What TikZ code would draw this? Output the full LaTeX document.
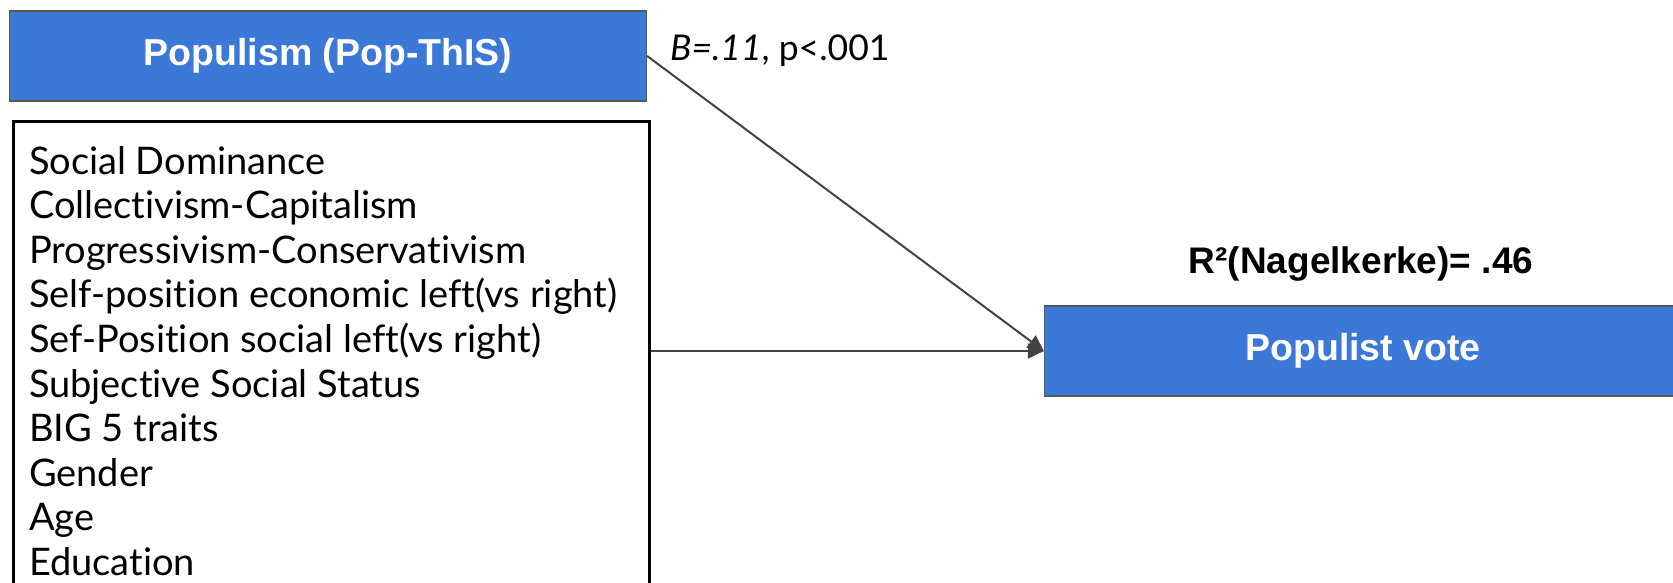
\documentclass[tikz,border=0pt]{standalone}
\usepackage{fontspec}
\setmainfont{Lato}[Ligatures=NoCommon]
\newfontfamily\arial{Liberation Sans}
\usetikzlibrary{arrows.meta}
\definecolor{boxblue}{HTML}{3C78D8}
\definecolor{edgegray}{HTML}{595959}
\definecolor{arrgray}{HTML}{434343}
\begin{document}
\begin{tikzpicture}[x=1pt,y=-1pt,
 bluebox/.style={draw=edgegray, line width=1.2pt, fill=boxblue, minimum width=637pt, minimum height=90pt, inner sep=0pt, text=white, font=\arial\bfseries\fontsize{37.5}{44}\selectfont},
 listbox/.style={draw=black, line width=3pt, minimum width=636pt, minimum height=540pt, inner sep=0pt, anchor=north west},
 item/.style={anchor=base west, inner sep=0pt, font=\fontsize{38}{44}\selectfont},
 lbl/.style={inner sep=0pt},
 link/.style={draw=arrgray, line width=2pt, -{Triangle[length=16pt,width=15pt]}}]
\clip (0,0) rectangle (1673,583);
\fill[white] (0,0) rectangle (1673,583);
\node[bluebox] (pop) at (328,56) {Populism (Pop-ThIS)};
\node[listbox] (cov) at (12,120) {};
\foreach \t [count=\i from 0] in {Social Dominance,Collectivism-Capitalism,Progressivism-Conservativism,Self-position economic left(vs right),Sef-Position social left(vs right),Subjective Social Status,BIG 5 traits,Gender,Age,Education}
  \node[item] (item\i) at (28.8,{174+44.6*\i}) {\t};
\node[bluebox] (vote) at (1363,351) {Populist vote};
\node[lbl, anchor=base west, font=\fontsize{35.5}{40}\selectfont] (coef) at (670,61) {\textit{B=.11}, p<.001};
\node[lbl, font=\arial\bfseries\fontsize{37}{42}\selectfont] (rsq) at (1361,264) {R²(Nagelkerke)= .46};
\draw[link] (pop.east) -- (vote.west);
\draw[link] (cov.east |- vote.west) -- (vote.west);
\end{tikzpicture}
\end{document}
